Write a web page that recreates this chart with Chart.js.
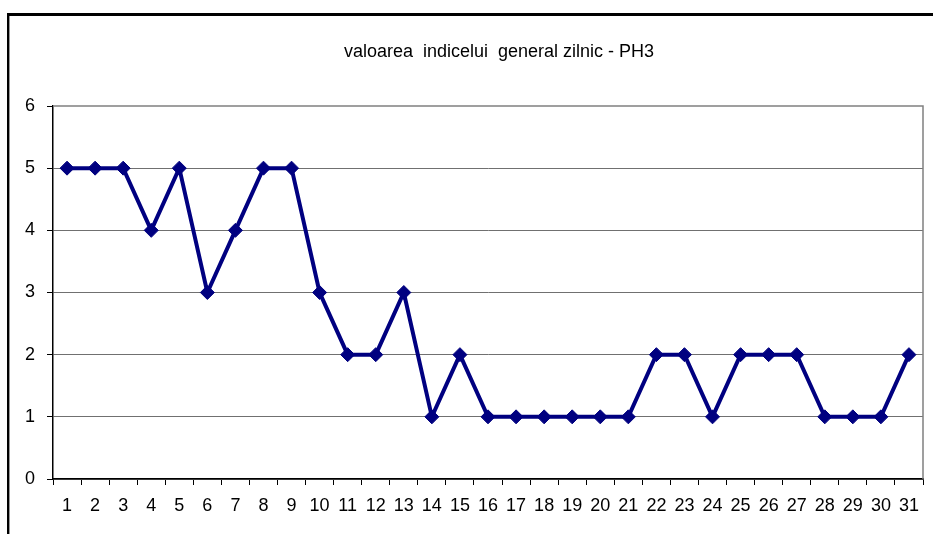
<!DOCTYPE html>
<html>
<head>
<meta charset="utf-8">
<script src="https://cdn.jsdelivr.net/npm/chart.js@4"></script>
<style>
  html, body { margin: 0; padding: 0; background: #fff; }
  #wrap { position: relative; width: 933px; height: 534px; }
  /* frame lines of the original screenshot */
  #frame { position: absolute; left: 7px; top: 13px; right: 0; bottom: 0;
           border-top: 3px solid #000; border-left: 2px solid #000; }
  #frame2 { position: absolute; left: 9px; top: 16px; bottom: 0; width: 1px; background: #999; }
  canvas { position: absolute; left: 0; top: 0; }
</style>
</head>
<body>
<div id="wrap">
  <div id="frame"></div>
  <div id="frame2"></div>
  <canvas id="chart" width="933" height="534"></canvas>
</div>
<script>
// data
const days = ['1','2','3','4','5','6','7','8','9','10','11','12','13','14','15','16',
  '17','18','19','20','21','22','23','24','25','26','27','28','29','30','31'];
const indexValues = [5, 5, 5, 4, 5, 3, 4, 5, 5, 3, 2, 2, 3, 1, 2, 1,
  1, 1, 1, 1, 1, 2, 2, 1, 2, 2, 2, 1, 1, 1, 2];
const yTicks = [0, 1, 2, 3, 4, 5, 6];
const chartTitle = 'valoarea  indicelui  general zilnic - PH3';

const FONT = "'Liberation Sans', Arial, sans-serif";
const ctx = document.getElementById('chart').getContext('2d');

// grey border on top and right side of the plot area, plus the title
// (the original title sits a bit right of the canvas centre)
const plotBorder = {
  id: 'plotBorder',
  beforeDatasetsDraw(chart) {
    const { ctx, chartArea: a } = chart;
    ctx.save();
    ctx.strokeStyle = '#808080';
    ctx.lineWidth = 1.5;
    ctx.beginPath();
    ctx.moveTo(a.left, a.top);
    ctx.lineTo(a.right, a.top);
    ctx.lineTo(a.right, a.bottom);
    ctx.stroke();

    ctx.fillStyle = '#000';
    ctx.font = '18px ' + FONT;
    ctx.textAlign = 'center';
    ctx.textBaseline = 'middle';
    ctx.fillText(chartTitle, 499, 52);
    ctx.restore();
  }
};

new Chart(ctx, {
  type: 'line',
  data: {
    labels: days,
    datasets: [{
      data: indexValues,
      borderColor: '#000080',
      backgroundColor: '#000080',
      borderWidth: 4,
      pointStyle: 'rectRot',
      pointRadius: 7,
      pointHoverRadius: 7,
      pointBorderWidth: 1,
      tension: 0
    }]
  },
  options: {
    responsive: false,
    animation: false,
    layout: { padding: { left: 0, right: 10, top: 106, bottom: 0 } },
    plugins: {
      legend: { display: false },
      tooltip: { enabled: false },
      title: { display: false }
    },
    scales: {
      x: {
        offset: true,
        afterFit: (axis) => { axis.height = 55; },
        grid: {
          display: true,
          drawOnChartArea: false,
          drawTicks: true,
          tickLength: 6,
          color: '#000',
          offset: true
        },
        border: { color: '#000', width: 1.5 },
        ticks: {
          color: '#000',
          padding: 10,
          maxRotation: 0,
          autoSkip: false,
          font: { family: FONT, size: 18 }
        }
      },
      y: {
        min: 0,
        max: 6,
        afterFit: (axis) => { axis.width = 53; },
        afterBuildTicks: (axis) => { axis.ticks = yTicks.map(v => ({ value: v })); },
        grid: {
          color: (c) => c.tick && c.tick.value === 6 ? 'rgba(0,0,0,0)' : '#707070',
          lineWidth: 1,
          tickLength: 6,
          tickColor: '#000'
        },
        border: { color: '#000', width: 1.5 },
        ticks: {
          color: '#000',
          padding: 12,
          font: { family: FONT, size: 18 }
        }
      }
    }
  },
  plugins: [plotBorder]
});
</script>
</body>
</html>
